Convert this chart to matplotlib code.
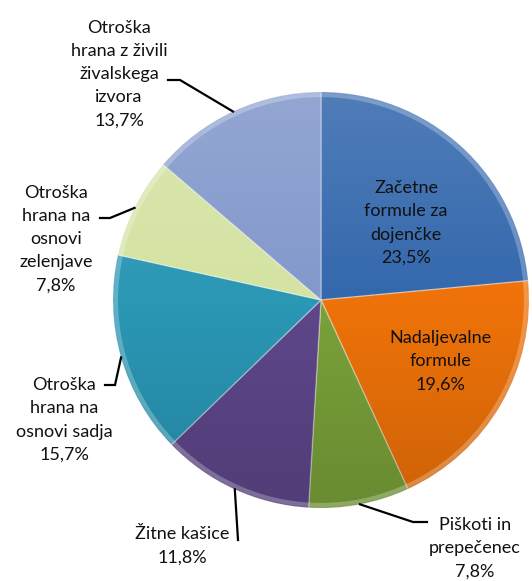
import numpy as np
import matplotlib.pyplot as plt
from matplotlib.patches import Circle

# deleži po skupinah (v smeri urinega kazalca od vrha)
labels = ['Začetne\nformule za\ndojenčke', 'Nadaljevalne\nformule', 'Piškoti in\nprepečenec',
          'Žitne kašice', 'Otroška\nhrana na\nosnovi sadja', 'Otroška\nhrana na\nosnovi\nzelenjave',
          'Otroška\nhrana z živili\nživalskega\nizvora']
values = [23.5, 19.6, 7.8, 11.8, 15.7, 7.8, 13.7]
colors = ['#3468ad', '#ee7209', '#7aa13a', '#5e478a', '#2a97b5', '#d4e3a3', '#8399cc']

W, H = 532, 581
cx, cy, r = 321, H - 300, 208

# polozaj napisov (px, y od vrha) in kolena crt
text_pos = [(406, 223), (440, 361), (475, 548), (182, 546), (64, 420), (56, 239), (119, 74)]
elbows = [None, None, (413, 522), (238, 540), (115, 385), (110, 218), (180, 80)]
line_end = [None, None, (427, 522), (238, 540), (105, 385), (100, 218), (168, 80)]

fig = plt.figure(figsize=(W / 100, H / 100), dpi=100)
ax = fig.add_axes([0, 0, 1, 1])

wedges, _ = ax.pie(values, colors=colors, startangle=90, counterclock=False,
                   center=(cx, cy), radius=r, frame=True,
                   wedgeprops=dict(edgecolor=(1, 1, 1, 0.35), linewidth=1.0))

# rahel senčni preliv cez torto
grad = np.linspace(0, 1, 256).reshape(-1, 1)
rgba = np.zeros((256, 1, 4))
rgba[..., :3] = np.where(grad[..., None] < 0.5, 1.0, 0.0)
rgba[..., 3] = np.abs(grad - 0.5) * 0.28
img = ax.imshow(rgba, extent=(cx - r, cx + r, cy - r, cy + r), origin='upper',
                aspect='auto', zorder=3)
clip = Circle((cx, cy), r, transform=ax.transData)
img.set_clip_path(clip)
ring = Circle((cx, cy), r - 3, fill=False, edgecolor=(1, 1, 1, 0.25), linewidth=3, zorder=4)
ax.add_patch(ring)

ax.set_xlim(0, W)
ax.set_ylim(0, H)
ax.set_aspect('equal')
ax.axis('off')

font = 'Lato'
cum = 0
for i, v in enumerate(values):
    mid = (cum + v / 2) / 100 * 360
    cum += v
    pct = f'{v:.1f}%'.replace('.', ',')
    tx, ty = text_pos[i]
    ax.text(tx, H - ty, labels[i] + '\n' + pct, ha='center', va='center',
            fontsize=13, family=font, color='#111111', linespacing=1.55, zorder=6)
    if elbows[i] is not None:
        ex = cx + r * np.sin(np.radians(mid))
        ey = cy + r * np.cos(np.radians(mid))
        bx, by = elbows[i]
        lx, ly = line_end[i]
        ax.plot([ex, bx, lx], [ey, H - by, H - ly], color='black', lw=1.6, zorder=5,
                solid_joinstyle='miter')

fig.savefig('out.png', dpi=100, facecolor='white')
